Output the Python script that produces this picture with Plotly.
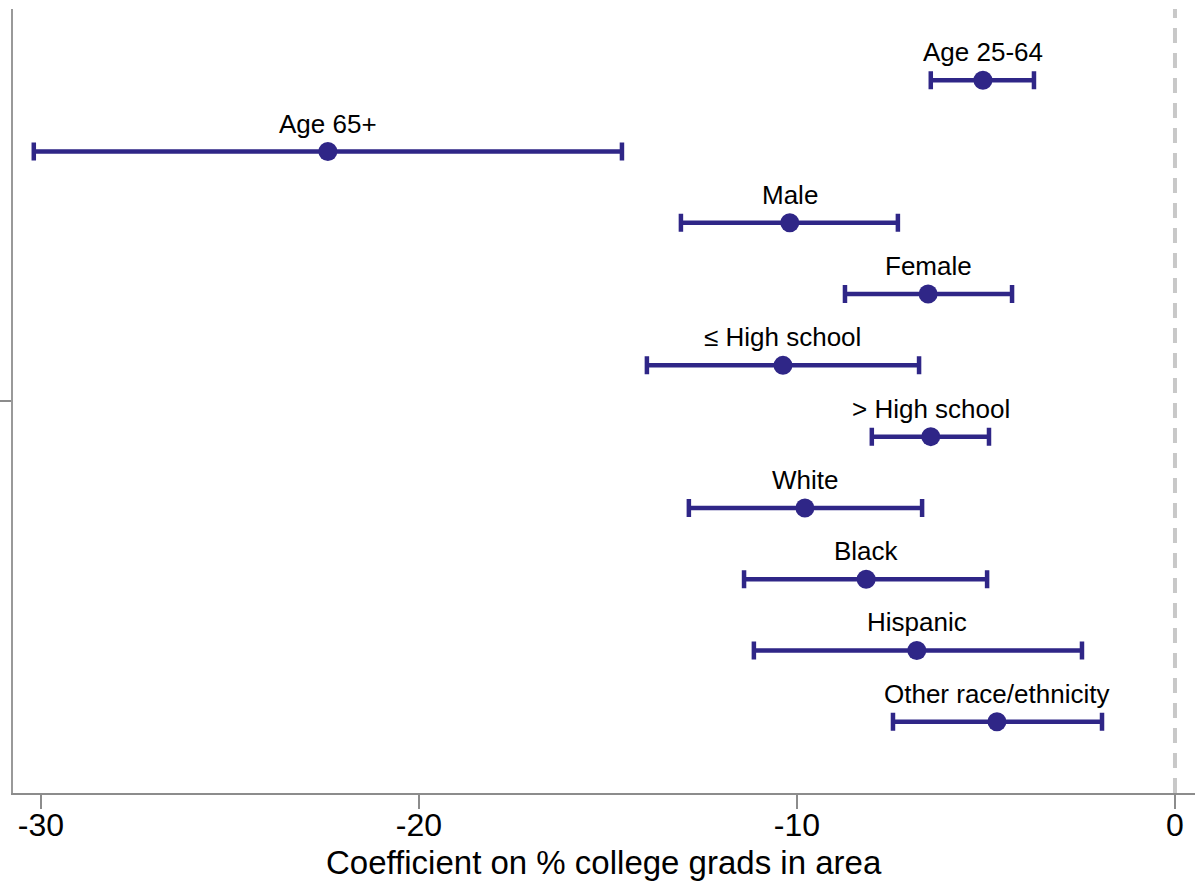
import plotly.graph_objects as go

groups = ["Age 25-64", "Age 65+", "Male", "Female", "≤ High school", "> High school",
          "White", "Black", "Hispanic", "Other race/ethnicity"]
coef = [-5.08, -22.41, -10.19, -6.53, -10.37, -6.46, -9.79, -8.17, -6.83, -4.71]
ci_low = [-6.46, -30.19, -13.07, -8.73, -13.97, -8.02, -12.86, -11.40, -11.14, -7.46]
ci_high = [-3.73, -14.63, -7.33, -4.31, -6.77, -4.92, -6.69, -4.97, -2.46, -1.93]
x_ticks = [-30, -20, -10, 0]
x_title = "Coefficient on % college grads in area"

rows = list(range(1, len(groups) + 1))
color = "#2f2687"
FONT = "Liberation Sans, Arial"

fig = go.Figure()
fig.add_trace(go.Scatter(
    x=coef, y=rows, mode="markers",
    marker=dict(color=color, size=19),
    error_x=dict(type="data", symmetric=False,
                 array=[h - c for h, c in zip(ci_high, coef)],
                 arrayminus=[c - l for c, l in zip(coef, ci_low)],
                 color=color, thickness=4.5, width=9),
    showlegend=False, hoverinfo="skip",
))

for g, c, r in zip(groups, coef, rows):
    fig.add_annotation(x=c, y=r, text=g, showarrow=False, yanchor="bottom",
                       yshift=11, font=dict(family=FONT, size=26, color="black"))

fig.add_annotation(x=0.5, y=0, xref="paper", yref="paper", text=x_title, showarrow=False,
                   yanchor="middle", yshift=-69, font=dict(family=FONT, size=33, color="black"))

fig.add_shape(type="line", x0=0, x1=0, y0=0, y1=1, xref="x", yref="paper",
              line=dict(color="#c8c8c8", width=4, dash="15px,10px"), layer="below")

fig.update_layout(
    width=1198, height=881,
    margin=dict(l=13, r=3, t=9, b=88),
    plot_bgcolor="white", paper_bgcolor="white",
    font=dict(family=FONT, color="black"),
    xaxis=dict(range=[-30.74, 0.53], tickvals=x_ticks, ticktext=[str(t) for t in x_ticks],
               showgrid=False, zeroline=False, showline=True, linecolor="#8c8c8c", linewidth=2,
               ticks="outside", ticklen=14, tickwidth=2, tickcolor="#8c8c8c",
               tickfont=dict(size=32), automargin=False, ticklabelstandoff=-11),
    yaxis=dict(range=[11, 0], tickvals=[5.5], ticktext=[""], showgrid=False, zeroline=False,
               showline=True, linecolor="#999999", linewidth=2, automargin=False,
               ticks="outside", ticklen=13, tickwidth=2, tickcolor="#8c8c8c"),
)

fig.write_html("out.html", config={"displayModeBar": False},
               post_script="document.body.style.margin='0';document.body.style.overflow='hidden';")
